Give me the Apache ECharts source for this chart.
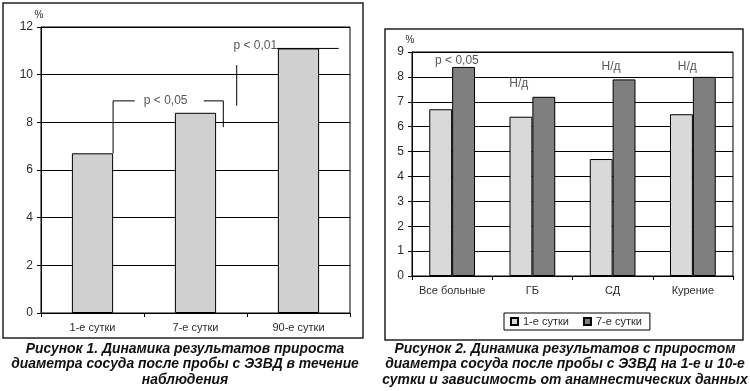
<!DOCTYPE html>
<html><head><meta charset="utf-8">
<script src="https://cdn.jsdelivr.net/npm/echarts@6/dist/echarts.min.js"></script>
<style>html,body{margin:0;padding:0;background:#fff}#c{width:750px;height:391px}</style>
</head><body><div id="c"></div>
<script>
// ---- Figure 1 data ----
var cats1 = ['1-е сутки', '7-е сутки', '90-е сутки'];
var vals1 = [6.7, 8.4, 11.1];
var yTicks1 = {min: 0, max: 12, interval: 2};
// significance brackets (x in category-index units, y in %)
var bracketA1 = [[0.2, 6.7], [0.2, 8.9], [0.41, 8.9]];
var bracketA2 = [[1.08, 8.9], [1.27, 8.9], [1.27, 7.8]];
var bracketB1 = [[1.4, 10.4], [1.4, 8.7]];
var bracketB2 = [[1.79, 11.1], [2.39, 11.1]];
var notes1 = [[0.71, 8.9, 'p < 0,05'], [1.58, 11.2, 'p < 0,01']];

// ---- Figure 2 data ----
var cats2 = ['Все больные', 'ГБ', 'СД', 'Курение'];
var day1 = [6.7, 6.4, 4.7, 6.5];
var day7 = [8.4, 7.2, 7.9, 8.0];
var seriesNames2 = ['1-е сутки', '7-е сутки'];
var yTicks2 = {min: 0, max: 9, interval: 1};
var notes2 = [[0.06, 8.66, 'p < 0,05'], [0.83, 7.72, 'Н/д'], [1.98, 8.42, 'Н/д'], [2.93, 8.42, 'Н/д']];

var captions = [
  'Рисунок 1. Динамика результатов прироста\nдиаметра сосуда после пробы с ЭЗВД в течение\nнаблюдения',
  'Рисунок 2. Динамика результатов с приростом\nдиаметра сосуда после пробы с ЭЗВД на 1-е и 10-е\nсутки и зависимость от анамнестических данных'
];

var FONT = 'Arial, "Liberation Sans", sans-serif';
var CAPFONT = 'italic bold 13.9px "Liberation Sans", Arial, sans-serif';
var TXT = '#2b2b33';

function catAxis(gi, data) {
  return {type: 'category', gridIndex: gi, data: data,
    axisLine: {onZero: false, lineStyle: {color: '#000', width: 1}},
    axisTick: {show: true, length: 4, lineStyle: {color: '#000'}},
    axisLabel: {interval: 0, color: TXT, fontFamily: FONT, fontSize: 11, margin: 9},
    splitLine: {show: false}};
}
function hidAxis(gi, n) {
  return {type: 'value', gridIndex: gi, min: -0.5, max: n - 0.5, show: false};
}
function valAxis(gi, t) {
  return {type: 'value', gridIndex: gi, min: t.min, max: t.max, interval: t.interval,
    name: '%', nameLocation: 'end', nameGap: 7,
    nameTextStyle: {color: TXT, fontFamily: FONT, fontSize: 10, padding: [0, 4, 0, 0]},
    axisLine: {show: true, onZero: false, lineStyle: {color: '#000'}},
    axisTick: {show: true, length: 4, lineStyle: {color: '#000'}},
    axisLabel: {color: TXT, fontFamily: FONT, fontSize: 12, margin: 8},
    splitLine: {show: true, lineStyle: {color: '#000', width: 1}}};
}
function lineSer(xi, yi, pts) {
  return {type: 'line', xAxisIndex: xi, yAxisIndex: yi, data: pts, symbol: 'none',
    silent: true, lineStyle: {color: '#000', width: 1}, z: 5};
}
function noteSer(xi, yi, notes) {
  return {type: 'scatter', xAxisIndex: xi, yAxisIndex: yi, symbolSize: 0, silent: true, z: 6,
    data: notes.map(function (n) { return {value: [n[0], n[1]], name: n[2]}; }),
    label: {show: true, position: 'inside', formatter: '{b}', color: TXT, fontFamily: FONT, fontSize: 12}};
}

var chart = echarts.init(document.getElementById('c'), null, {renderer: 'canvas'});
chart.setOption({
  animation: false,
  backgroundColor: '#fff',
  grid: [
    {left: 41, top: 27, width: 309, height: 286, show: true, borderColor: '#000', borderWidth: 1, backgroundColor: 'transparent'},
    {left: 412, top: 52, width: 321, height: 224, show: true, borderColor: '#000', borderWidth: 1, backgroundColor: 'transparent'}
  ],
  xAxis: [catAxis(0, cats1), catAxis(1, cats2), hidAxis(0, cats1.length), hidAxis(1, cats2.length)],
  yAxis: [valAxis(0, yTicks1), valAxis(1, yTicks2)],
  legend: {
    data: seriesNames2, left: 504, top: 313, orient: 'horizontal',
    itemWidth: 7, itemHeight: 7, itemGap: 14, icon: 'rect',
    borderColor: '#000', borderWidth: 1, padding: [3, 8, 3, 6],
    textStyle: {color: TXT, fontFamily: FONT, fontSize: 11}
  },
  graphic: [
    {type: 'rect', shape: {x: 3, y: 3, width: 360, height: 335}, style: {fill: 'none', stroke: '#222', lineWidth: 1.5}, silent: true},
    {type: 'rect', shape: {x: 385, y: 29, width: 358, height: 311}, style: {fill: 'none', stroke: '#222', lineWidth: 1.5}, silent: true},
    {type: 'text', x: 185, y: 341, style: {text: captions[0], textAlign: 'center', fill: '#111', font: CAPFONT, lineHeight: 15.5}, silent: true},
    {type: 'text', x: 565, y: 341, style: {text: captions[1], textAlign: 'center', fill: '#111', font: CAPFONT, lineHeight: 15.5}, silent: true}
  ],
  series: [
    {name: 'Рисунок 1', type: 'bar', xAxisIndex: 0, yAxisIndex: 0, data: vals1, barWidth: '40%',
      itemStyle: {color: '#d0d0d0', borderColor: '#000', borderWidth: 1}},
    {name: seriesNames2[0], type: 'bar', xAxisIndex: 1, yAxisIndex: 1, data: day1, barGap: '0%', barCategoryGap: '43%',
      itemStyle: {color: '#d9d9d9', borderColor: '#000', borderWidth: 1}},
    {name: seriesNames2[1], type: 'bar', xAxisIndex: 1, yAxisIndex: 1, data: day7, barGap: '0%', barCategoryGap: '43%',
      itemStyle: {color: '#7f7f7f', borderColor: '#000', borderWidth: 1}},
    lineSer(2, 0, bracketA1), lineSer(2, 0, bracketA2), lineSer(2, 0, bracketB1), lineSer(2, 0, bracketB2),
    noteSer(2, 0, notes1),
    noteSer(3, 1, notes2)
  ]
});
</script></body></html>
